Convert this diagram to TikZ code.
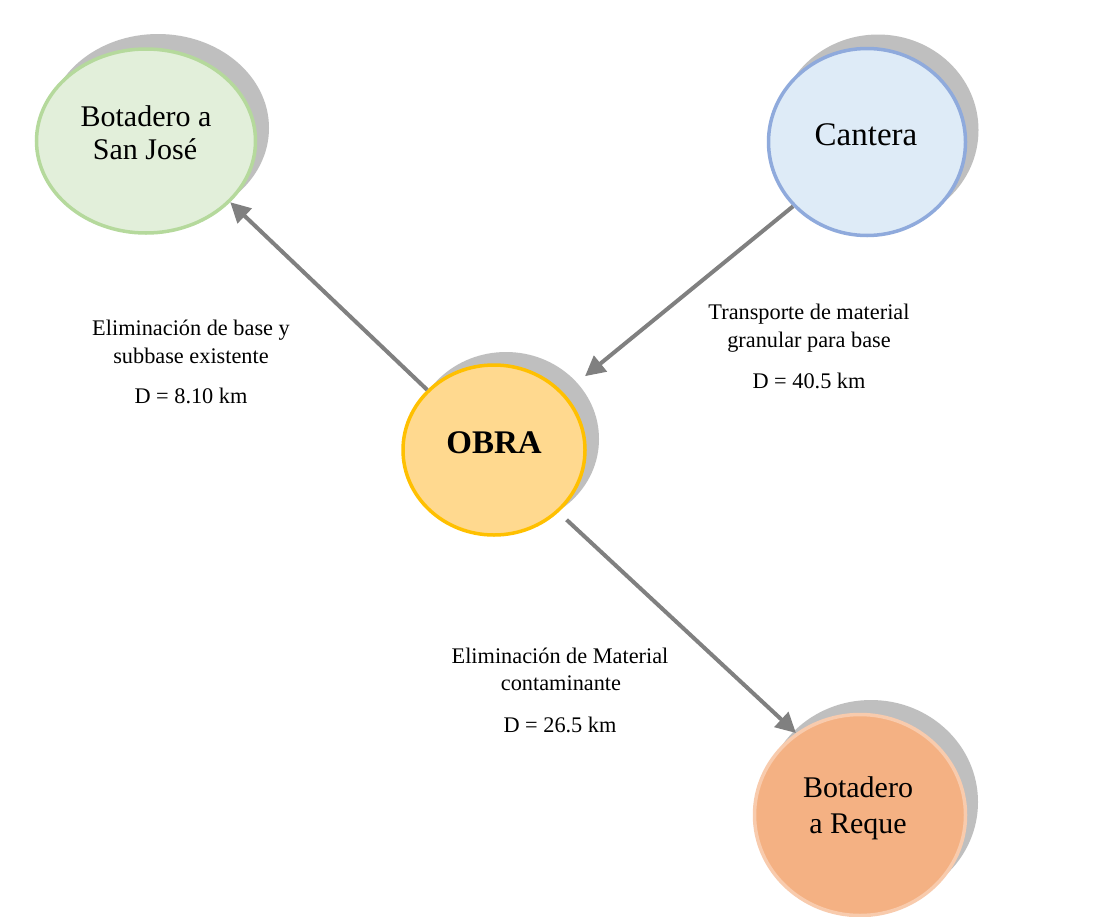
\documentclass[tikz,border=0pt]{standalone}
\usepackage{fontspec}
\setmainfont{Liberation Serif}
\usetikzlibrary{shapes.geometric,arrows.meta}
\definecolor{shadowgray}{HTML}{BFBFBF}
\definecolor{arrowgray}{HTML}{808080}
\definecolor{sjfill}{HTML}{E2EFDA}
\definecolor{sjborder}{HTML}{B5D99C}
\definecolor{cantfill}{HTML}{DEEBF7}
\definecolor{cantborder}{HTML}{8FAADC}
\definecolor{obrafill}{HTML}{FFD98F}
\definecolor{obraborder}{HTML}{FFC000}
\definecolor{reqfill}{HTML}{F4B183}
\definecolor{reqborder}{HTML}{F8CBAD}
\begin{document}
\begin{tikzpicture}[x=1pt,y=-1pt,
  shad/.style={ellipse, inner sep=0pt, fill=shadowgray},
  circ/.style={ellipse, inner sep=0pt, line width=3.5pt},
  arr/.style={draw=arrowgray, line width=4pt, -{Triangle[length=20pt,width=20pt]}},
  lbl/.style={anchor=base, inner sep=0pt, font=\fontsize{22.3}{26}\selectfont},
  ctext/.style={anchor=base, inner sep=0pt, font=\fontsize{30}{32}\selectfont}]
\useasboundingbox[fill=white] (0,0) rectangle (1094,916);

% shadows
\node[shad, minimum width=222pt, minimum height=188pt] (sjs) at (158,128) {};
\node[shad, minimum width=201pt, minimum height=191pt] (cants) at (878,130) {};
\node[shad, minimum width=186pt, minimum height=174pt] (obras) at (506,439) {};
\node[shad, minimum width=214pt, minimum height=204pt] (reqs) at (871,802) {};

% circles
\node[circ, draw=sjborder, fill=sjfill, minimum width=219pt, minimum height=184pt] (sj) at (146,141) {};
\node[circ, draw=cantborder, fill=cantfill, minimum width=197pt, minimum height=187pt] (cant) at (867,142) {};
\node[circ, draw=obraborder, fill=obrafill, minimum width=182pt, minimum height=170pt] (obra) at (494,450) {};
\node[circ, draw=reqborder, fill=reqfill, minimum width=211pt, minimum height=201pt] (req) at (860,815) {};

% circle texts
\node[ctext] (sjt1) at (146,126) {Botadero a};
\node[ctext] (sjt2) at (145,159) {San José};
\node[ctext, font=\fontsize{33}{36}\selectfont] (cantt) at (866,145) {Cantera};
\node[ctext, font=\fontsize{33}{36}\bfseries\selectfont] (obrat) at (494,453) {OBRA};
\node[ctext] (reqt1) at (858,797) {Botadero};
\node[ctext] (reqt2) at (858,833) {a Reque};

% arrows
\draw[arr] (obra.138.7) -- (sj.-36.9);
\draw[arr, shorten >=27pt] (cant.221.3) -- (obra.39.2);
\draw[arr, shorten <=11pt] (obra.-44.6) -- (req.128.2);

% labels
\node[lbl] (l1a) at (191,335) {Eliminación de base y};
\node[lbl] (l1b) at (191,363) {subbase existente};
\node[lbl] (l1c) at (191,403) {D = 8.10 km};
\node[lbl] (l2a) at (809,319) {Transporte de material};
\node[lbl] (l2b) at (809,347) {granular para base};
\node[lbl] (l2c) at (809,388) {D = 40.5 km};
\node[lbl] (l3a) at (560,663) {Eliminación de Material};
\node[lbl] (l3b) at (561,690) {contaminante};
\node[lbl] (l3c) at (560,732) {D = 26.5 km};
\end{tikzpicture}
\end{document}
